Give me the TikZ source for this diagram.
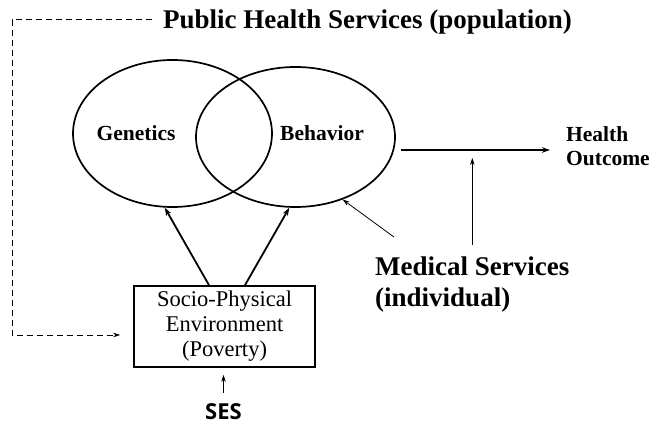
\documentclass[tikz,border=0pt]{standalone}
\usepackage{fontspec}
\setmainfont{Liberation Serif}
\newfontfamily\sesfont{Open Sans}
\usetikzlibrary{shapes.geometric,arrows.meta}
\tikzset{
	venn/.style={ellipse, draw, line width=1.7pt, inner sep=0pt},
	big label/.style={font=\bfseries\fontsize{27}{31}\selectfont, inner sep=0pt},
	mid label/.style={font=\bfseries\fontsize{21.5}{24}\selectfont, inner sep=0pt},
	heavy/.style={line width=1.8pt, -{Stealth[length=8pt,width=5.5pt]}},
	light/.style={line width=0.8pt, -{Stealth[length=7pt,width=4.5pt]}}
}

\begin{document}
\begin{tikzpicture}[x=1pt,y=-1pt]
	\useasboundingbox (0,0) rectangle (657,427);
	\node[venn, minimum width=199pt, minimum height=147pt] (gen) at (172.5,133.5) {};
	\node[venn, minimum width=199pt, minimum height=140pt] (beh) at (295.5,137) {};
	\node[mid label] (genl) at (136,133) {Genetics};
	\node[mid label] (behl) at (322,133) {Behavior};
	\node[draw, line width=1.7pt, minimum width=181pt, minimum height=81pt,
		align=center, font=\fontsize{22.5}{25}\selectfont] (env) at (224.5,326.5)
	{Socio-Physical\\Environment\\(Poverty)};
	\node[font=\sesfont\bfseries\fontsize{22}{25}\selectfont, inner sep=0pt] (ses)
	at (223.5,412) {SES};
	\node[big label, anchor=base west, inner xsep=11pt] (pub) at (152,29)
	{Public Health Services (population)};
	\node[big label, align=left, anchor=west] (med) at (375,285)
	{Medical Services\\(individual)};
	\node[mid label, align=left, anchor=west] (out) at (566,146)
	{Health\\Outcome};
	\coordinate (o1) at (401,150);
	\coordinate (bend) at (12,335);
	\draw[heavy] ([xshift=-15.5pt]env.north) -- (gen.-96);
	\draw[heavy] ([xshift=20.5pt]env.north) -- (beh.-95);
	\draw[heavy, shorten >=16pt] (o1) -- (o1 -| out.west);
	\draw[light] ([xshift=19pt,yshift=20pt]med.north west) -- (beh.-53);
	\draw[light, shorten >=8pt] ([yshift=12pt]med.north) -- (med.north |- o1);
	\draw[light, shorten <=11pt, shorten >=7pt] (ses.north) -- (ses.north |- env.south);
	\draw[line width=0.8pt, dash pattern=on 6pt off 4pt, -{Stealth[length=7pt,width=4.5pt]},
		shorten >=13pt] ([yshift=3pt]pub.west) -| (bend) -- (bend -| env.west);
\end{tikzpicture}
\end{document}
